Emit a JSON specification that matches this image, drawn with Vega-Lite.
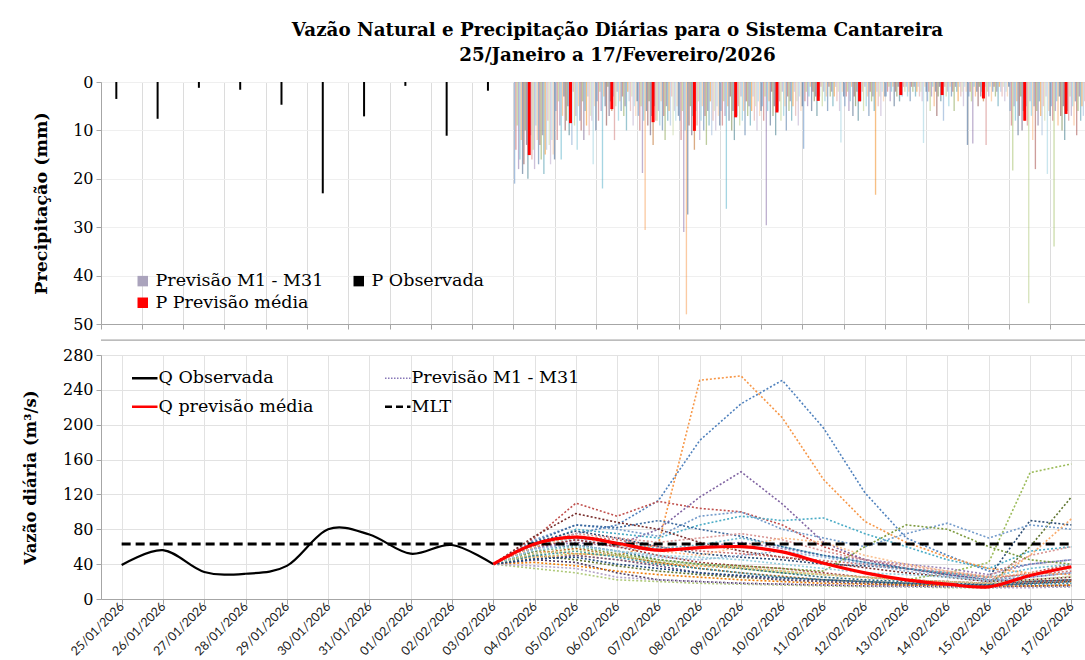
{
"$schema":"https://vega.github.io/schema/vega-lite/v6.json",
"padding":{"left":21,"top":21,"right":0,"bottom":0},
"background":"#ffffff",
"title":{"text":["Vazão Natural e Precipitação Diárias para o Sistema Cantareira","25/Janeiro a 17/Fevereiro/2026"],"font":"DejaVu Serif","fontSize":18.3,"fontWeight":"bold","lineHeight":25,"anchor":"middle","frame":"group","dx":21,"offset":8,"color":"#000000"},
"config":{
"view":{"stroke":"#bfbfbf","strokeWidth":1},
"axis":{"labelFont":"DejaVu Serif","labelFontSize":16,"titleFont":"DejaVu Serif","titleFontWeight":"bold","titleFontSize":16.5,"labelColor":"#000000","titleColor":"#000000","gridColor":"#e2e2e2","domainColor":"#a6a6a6","tickColor":"#a6a6a6","tickSize":5,"labelPadding":3,"labelOverlap":false},
"legend":{"labelFont":"DejaVu Serif","labelFontSize":17.5,"labelColor":"#000000","labelLimit":400}
},
"bounds":"flush",
"spacing":31,
"resolve":{"scale":{"color":"independent"}},
"datasets":{
"pobs":[{"d":"25/01","p":3.5,"s":"P Observada"},{"d":"26/01","p":7.6,"s":"P Observada"},{"d":"27/01","p":1.2,"s":"P Observada"},{"d":"28/01","p":1.6,"s":"P Observada"},{"d":"29/01","p":4.7,"s":"P Observada"},{"d":"30/01","p":23,"s":"P Observada"},{"d":"31/01","p":7.1,"s":"P Observada"},{"d":"01/02","p":0.8,"s":"P Observada"},{"d":"02/02","p":11.1,"s":"P Observada"},{"d":"03/02","p":1.8,"s":"P Observada"}],
"pavg":[{"d":"04/02","p":15.1,"s":"P Previsão média"},{"d":"05/02","p":8.5,"s":"P Previsão média"},{"d":"06/02","p":5.6,"s":"P Previsão média"},{"d":"07/02","p":8.3,"s":"P Previsão média"},{"d":"08/02","p":10.1,"s":"P Previsão média"},{"d":"09/02","p":7.3,"s":"P Previsão média"},{"d":"10/02","p":6.3,"s":"P Previsão média"},{"d":"11/02","p":3.9,"s":"P Previsão média"},{"d":"12/02","p":4.0,"s":"P Previsão média"},{"d":"13/02","p":2.7,"s":"P Previsão média"},{"d":"14/02","p":2.7,"s":"P Previsão média"},{"d":"15/02","p":3.4,"s":"P Previsão média"},{"d":"16/02","p":8.0,"s":"P Previsão média"},{"d":"17/02","p":6.6,"s":"P Previsão média"}],
"pmem":[
{"d":"04/02","m":1,"p":21},{"d":"04/02","m":2,"p":14},{"d":"04/02","m":3,"p":9},{"d":"04/02","m":4,"p":18},{"d":"04/02","m":5,"p":16},{"d":"04/02","m":6,"p":12},{"d":"04/02","m":7,"p":19},{"d":"04/02","m":8,"p":17},{"d":"04/02","m":9,"p":10},{"d":"04/02","m":10,"p":13},{"d":"04/02","m":11,"p":20},{"d":"04/02","m":12,"p":15},{"d":"04/02","m":13,"p":11},{"d":"04/02","m":14,"p":16},{"d":"04/02","m":15,"p":14},{"d":"04/02","m":16,"p":18},{"d":"04/02","m":17,"p":9},{"d":"04/02","m":18,"p":12},{"d":"04/02","m":19,"p":17},{"d":"04/02","m":20,"p":13},{"d":"04/02","m":21,"p":16},{"d":"04/02","m":22,"p":11},{"d":"04/02","m":23,"p":19},{"d":"04/02","m":24,"p":15},{"d":"04/02","m":25,"p":14},{"d":"04/02","m":26,"p":8},{"d":"04/02","m":27,"p":13},{"d":"04/02","m":28,"p":17},{"d":"04/02","m":29,"p":12},{"d":"04/02","m":30,"p":15},{"d":"04/02","m":31,"p":16},
{"d":"05/02","m":1,"p":6},{"d":"05/02","m":2,"p":12},{"d":"05/02","m":3,"p":4},{"d":"05/02","m":4,"p":9},{"d":"05/02","m":5,"p":16},{"d":"05/02","m":6,"p":7},{"d":"05/02","m":7,"p":3},{"d":"05/02","m":8,"p":10},{"d":"05/02","m":9,"p":8},{"d":"05/02","m":10,"p":5},{"d":"05/02","m":11,"p":11},{"d":"05/02","m":12,"p":6},{"d":"05/02","m":13,"p":13},{"d":"05/02","m":14,"p":2},{"d":"05/02","m":15,"p":9},{"d":"05/02","m":16,"p":7},{"d":"05/02","m":17,"p":14},{"d":"05/02","m":18,"p":5},{"d":"05/02","m":19,"p":8},{"d":"05/02","m":20,"p":10},{"d":"05/02","m":21,"p":4},{"d":"05/02","m":22,"p":12},{"d":"05/02","m":23,"p":6},{"d":"05/02","m":24,"p":9},{"d":"05/02","m":25,"p":3},{"d":"05/02","m":26,"p":11},{"d":"05/02","m":27,"p":7},{"d":"05/02","m":28,"p":8},{"d":"05/02","m":29,"p":17},{"d":"05/02","m":30,"p":5},{"d":"05/02","m":31,"p":10},
{"d":"06/02","m":1,"p":4},{"d":"06/02","m":2,"p":8},{"d":"06/02","m":3,"p":2},{"d":"06/02","m":4,"p":6},{"d":"06/02","m":5,"p":22},{"d":"06/02","m":6,"p":3},{"d":"06/02","m":7,"p":5},{"d":"06/02","m":8,"p":9},{"d":"06/02","m":9,"p":1},{"d":"06/02","m":10,"p":7},{"d":"06/02","m":11,"p":4},{"d":"06/02","m":12,"p":6},{"d":"06/02","m":13,"p":3},{"d":"06/02","m":14,"p":12},{"d":"06/02","m":15,"p":5},{"d":"06/02","m":16,"p":2},{"d":"06/02","m":17,"p":8},{"d":"06/02","m":18,"p":4},{"d":"06/02","m":19,"p":6},{"d":"06/02","m":20,"p":3},{"d":"06/02","m":21,"p":7},{"d":"06/02","m":22,"p":5},{"d":"06/02","m":23,"p":10},{"d":"06/02","m":24,"p":2},{"d":"06/02","m":25,"p":4},{"d":"06/02","m":26,"p":6},{"d":"06/02","m":27,"p":3},{"d":"06/02","m":28,"p":9},{"d":"06/02","m":29,"p":5},{"d":"06/02","m":30,"p":7},{"d":"06/02","m":31,"p":4},
{"d":"07/02","m":1,"p":7},{"d":"07/02","m":2,"p":10},{"d":"07/02","m":3,"p":5},{"d":"07/02","m":4,"p":18.8},{"d":"07/02","m":5,"p":8},{"d":"07/02","m":6,"p":30.6},{"d":"07/02","m":7,"p":6},{"d":"07/02","m":8,"p":9},{"d":"07/02","m":9,"p":4},{"d":"07/02","m":10,"p":11},{"d":"07/02","m":11,"p":7},{"d":"07/02","m":12,"p":13},{"d":"07/02","m":13,"p":5},{"d":"07/02","m":14,"p":8},{"d":"07/02","m":15,"p":8},{"d":"07/02","m":16,"p":6},{"d":"07/02","m":17,"p":9},{"d":"07/02","m":18,"p":4},{"d":"07/02","m":19,"p":10},{"d":"07/02","m":20,"p":7},{"d":"07/02","m":21,"p":12},{"d":"07/02","m":22,"p":5},{"d":"07/02","m":23,"p":8},{"d":"07/02","m":24,"p":6},{"d":"07/02","m":25,"p":9},{"d":"07/02","m":26,"p":3},{"d":"07/02","m":27,"p":11},{"d":"07/02","m":28,"p":6},{"d":"07/02","m":29,"p":8},{"d":"07/02","m":30,"p":5},{"d":"07/02","m":31,"p":7},
{"d":"08/02","m":1,"p":8},{"d":"08/02","m":2,"p":12},{"d":"08/02","m":3,"p":6},{"d":"08/02","m":4,"p":31},{"d":"08/02","m":5,"p":10},{"d":"08/02","m":6,"p":48},{"d":"08/02","m":7,"p":27.4},{"d":"08/02","m":8,"p":9},{"d":"08/02","m":9,"p":5},{"d":"08/02","m":10,"p":11},{"d":"08/02","m":11,"p":7},{"d":"08/02","m":12,"p":14},{"d":"08/02","m":13,"p":6},{"d":"08/02","m":14,"p":9},{"d":"08/02","m":15,"p":4},{"d":"08/02","m":16,"p":12},{"d":"08/02","m":17,"p":8},{"d":"08/02","m":18,"p":5},{"d":"08/02","m":19,"p":10},{"d":"08/02","m":20,"p":7},{"d":"08/02","m":21,"p":13},{"d":"08/02","m":22,"p":6},{"d":"08/02","m":23,"p":9},{"d":"08/02","m":24,"p":4},{"d":"08/02","m":25,"p":11},{"d":"08/02","m":26,"p":8},{"d":"08/02","m":27,"p":6},{"d":"08/02","m":28,"p":10},{"d":"08/02","m":29,"p":5},{"d":"08/02","m":30,"p":7},{"d":"08/02","m":31,"p":9},
{"d":"09/02","m":1,"p":6},{"d":"09/02","m":2,"p":9},{"d":"09/02","m":3,"p":4},{"d":"09/02","m":4,"p":7},{"d":"09/02","m":5,"p":26.2},{"d":"09/02","m":6,"p":5},{"d":"09/02","m":7,"p":8},{"d":"09/02","m":8,"p":3},{"d":"09/02","m":9,"p":10},{"d":"09/02","m":10,"p":6},{"d":"09/02","m":11,"p":12},{"d":"09/02","m":12,"p":4},{"d":"09/02","m":13,"p":7},{"d":"09/02","m":14,"p":5},{"d":"09/02","m":15,"p":9},{"d":"09/02","m":16,"p":3},{"d":"09/02","m":17,"p":8},{"d":"09/02","m":18,"p":6},{"d":"09/02","m":19,"p":11},{"d":"09/02","m":20,"p":4},{"d":"09/02","m":21,"p":7},{"d":"09/02","m":22,"p":5},{"d":"09/02","m":23,"p":9},{"d":"09/02","m":24,"p":6},{"d":"09/02","m":25,"p":3},{"d":"09/02","m":26,"p":8},{"d":"09/02","m":27,"p":5},{"d":"09/02","m":28,"p":10},{"d":"09/02","m":29,"p":4},{"d":"09/02","m":30,"p":7},{"d":"09/02","m":31,"p":6},
{"d":"10/02","m":1,"p":5},{"d":"10/02","m":2,"p":8},{"d":"10/02","m":3,"p":3},{"d":"10/02","m":4,"p":29.6},{"d":"10/02","m":5,"p":6},{"d":"10/02","m":6,"p":4},{"d":"10/02","m":7,"p":9},{"d":"10/02","m":8,"p":2},{"d":"10/02","m":9,"p":7},{"d":"10/02","m":10,"p":5},{"d":"10/02","m":11,"p":11},{"d":"10/02","m":12,"p":3},{"d":"10/02","m":13,"p":6},{"d":"10/02","m":14,"p":4},{"d":"10/02","m":15,"p":8},{"d":"10/02","m":16,"p":2},{"d":"10/02","m":17,"p":7},{"d":"10/02","m":18,"p":5},{"d":"10/02","m":19,"p":10},{"d":"10/02","m":20,"p":3},{"d":"10/02","m":21,"p":6},{"d":"10/02","m":22,"p":4},{"d":"10/02","m":23,"p":8},{"d":"10/02","m":24,"p":5},{"d":"10/02","m":25,"p":2},{"d":"10/02","m":26,"p":7},{"d":"10/02","m":27,"p":4},{"d":"10/02","m":28,"p":9},{"d":"10/02","m":29,"p":3},{"d":"10/02","m":30,"p":6},{"d":"10/02","m":31,"p":5},
{"d":"11/02","m":1,"p":13.8},{"d":"11/02","m":2,"p":4},{"d":"11/02","m":3,"p":2},{"d":"11/02","m":4,"p":5},{"d":"11/02","m":5,"p":3},{"d":"11/02","m":6,"p":1},{"d":"11/02","m":7,"p":6},{"d":"11/02","m":8,"p":2},{"d":"11/02","m":9,"p":4},{"d":"11/02","m":10,"p":3},{"d":"11/02","m":11,"p":7},{"d":"11/02","m":12,"p":2},{"d":"11/02","m":13,"p":3},{"d":"11/02","m":14,"p":1},{"d":"11/02","m":15,"p":5},{"d":"11/02","m":16,"p":2},{"d":"11/02","m":17,"p":4},{"d":"11/02","m":18,"p":3},{"d":"11/02","m":19,"p":6},{"d":"11/02","m":20,"p":1},{"d":"11/02","m":21,"p":3},{"d":"11/02","m":22,"p":2},{"d":"11/02","m":23,"p":5},{"d":"11/02","m":24,"p":3},{"d":"11/02","m":25,"p":1},{"d":"11/02","m":26,"p":4},{"d":"11/02","m":27,"p":2},{"d":"11/02","m":28,"p":6},{"d":"11/02","m":29,"p":12.5},{"d":"11/02","m":30,"p":2},{"d":"11/02","m":31,"p":3},
{"d":"12/02","m":1,"p":5},{"d":"12/02","m":2,"p":3},{"d":"12/02","m":3,"p":2},{"d":"12/02","m":4,"p":6},{"d":"12/02","m":5,"p":4},{"d":"12/02","m":6,"p":1},{"d":"12/02","m":7,"p":7},{"d":"12/02","m":8,"p":3},{"d":"12/02","m":9,"p":5},{"d":"12/02","m":10,"p":2},{"d":"12/02","m":11,"p":8},{"d":"12/02","m":12,"p":3},{"d":"12/02","m":13,"p":4},{"d":"12/02","m":14,"p":2},{"d":"12/02","m":15,"p":6},{"d":"12/02","m":16,"p":1},{"d":"12/02","m":17,"p":5},{"d":"12/02","m":18,"p":3},{"d":"12/02","m":19,"p":7},{"d":"12/02","m":20,"p":2},{"d":"12/02","m":21,"p":4},{"d":"12/02","m":22,"p":3},{"d":"12/02","m":23,"p":6},{"d":"12/02","m":24,"p":23.3},{"d":"12/02","m":25,"p":2},{"d":"12/02","m":26,"p":5},{"d":"12/02","m":27,"p":3},{"d":"12/02","m":28,"p":7},{"d":"12/02","m":29,"p":2},{"d":"12/02","m":30,"p":4},{"d":"12/02","m":31,"p":3},
{"d":"13/02","m":1,"p":3},{"d":"13/02","m":2,"p":2},{"d":"13/02","m":3,"p":1},{"d":"13/02","m":4,"p":4},{"d":"13/02","m":5,"p":2},{"d":"13/02","m":6,"p":1},{"d":"13/02","m":7,"p":5},{"d":"13/02","m":8,"p":2},{"d":"13/02","m":9,"p":3},{"d":"13/02","m":10,"p":1},{"d":"13/02","m":11,"p":4},{"d":"13/02","m":12,"p":2},{"d":"13/02","m":13,"p":3},{"d":"13/02","m":14,"p":1},{"d":"13/02","m":15,"p":2},{"d":"13/02","m":16,"p":1},{"d":"13/02","m":17,"p":3},{"d":"13/02","m":18,"p":2},{"d":"13/02","m":19,"p":4},{"d":"13/02","m":20,"p":1},{"d":"13/02","m":21,"p":2},{"d":"13/02","m":22,"p":1},{"d":"13/02","m":23,"p":3},{"d":"13/02","m":24,"p":2},{"d":"13/02","m":25,"p":1},{"d":"13/02","m":26,"p":3},{"d":"13/02","m":27,"p":2},{"d":"13/02","m":28,"p":4},{"d":"13/02","m":29,"p":12.6},{"d":"13/02","m":30,"p":1},{"d":"13/02","m":31,"p":2},
{"d":"14/02","m":1,"p":4},{"d":"14/02","m":2,"p":2},{"d":"14/02","m":3,"p":6},{"d":"14/02","m":4,"p":3},{"d":"14/02","m":5,"p":1},{"d":"14/02","m":6,"p":5},{"d":"14/02","m":7,"p":2},{"d":"14/02","m":8,"p":7},{"d":"14/02","m":9,"p":3},{"d":"14/02","m":10,"p":1},{"d":"14/02","m":11,"p":4},{"d":"14/02","m":12,"p":2},{"d":"14/02","m":13,"p":8},{"d":"14/02","m":14,"p":1},{"d":"14/02","m":15,"p":3},{"d":"14/02","m":16,"p":2},{"d":"14/02","m":17,"p":5},{"d":"14/02","m":18,"p":1},{"d":"14/02","m":19,"p":3},{"d":"14/02","m":20,"p":2},{"d":"14/02","m":21,"p":6},{"d":"14/02","m":22,"p":1},{"d":"14/02","m":23,"p":2},{"d":"14/02","m":24,"p":4},{"d":"14/02","m":25,"p":1},{"d":"14/02","m":26,"p":3},{"d":"14/02","m":27,"p":2},{"d":"14/02","m":28,"p":5},{"d":"14/02","m":29,"p":1},{"d":"14/02","m":30,"p":2},{"d":"14/02","m":31,"p":13},
{"d":"15/02","m":1,"p":3},{"d":"15/02","m":2,"p":2},{"d":"15/02","m":3,"p":4},{"d":"15/02","m":4,"p":12.7},{"d":"15/02","m":5,"p":1},{"d":"15/02","m":6,"p":3},{"d":"15/02","m":7,"p":2},{"d":"15/02","m":8,"p":5},{"d":"15/02","m":9,"p":1},{"d":"15/02","m":10,"p":3},{"d":"15/02","m":11,"p":2},{"d":"15/02","m":12,"p":4},{"d":"15/02","m":13,"p":1},{"d":"15/02","m":14,"p":13},{"d":"15/02","m":15,"p":2},{"d":"15/02","m":16,"p":3},{"d":"15/02","m":17,"p":1},{"d":"15/02","m":18,"p":4},{"d":"15/02","m":19,"p":2},{"d":"15/02","m":20,"p":1},{"d":"15/02","m":21,"p":3},{"d":"15/02","m":22,"p":2},{"d":"15/02","m":23,"p":5},{"d":"15/02","m":24,"p":1},{"d":"15/02","m":25,"p":2},{"d":"15/02","m":26,"p":3},{"d":"15/02","m":27,"p":1},{"d":"15/02","m":28,"p":4},{"d":"15/02","m":29,"p":2},{"d":"15/02","m":30,"p":3},{"d":"15/02","m":31,"p":1},
{"d":"16/02","m":1,"p":6},{"d":"16/02","m":2,"p":9},{"d":"16/02","m":3,"p":18.3},{"d":"16/02","m":4,"p":5},{"d":"16/02","m":5,"p":8},{"d":"16/02","m":6,"p":4},{"d":"16/02","m":7,"p":11},{"d":"16/02","m":8,"p":7},{"d":"16/02","m":9,"p":3},{"d":"16/02","m":10,"p":10},{"d":"16/02","m":11,"p":6},{"d":"16/02","m":12,"p":8},{"d":"16/02","m":13,"p":5},{"d":"16/02","m":14,"p":9},{"d":"16/02","m":15,"p":45.7},{"d":"16/02","m":16,"p":4},{"d":"16/02","m":17,"p":7},{"d":"16/02","m":18,"p":12},{"d":"16/02","m":19,"p":5},{"d":"16/02","m":20,"p":18},{"d":"16/02","m":21,"p":6},{"d":"16/02","m":22,"p":9},{"d":"16/02","m":23,"p":4},{"d":"16/02","m":24,"p":7},{"d":"16/02","m":25,"p":11},{"d":"16/02","m":26,"p":5},{"d":"16/02","m":27,"p":8},{"d":"16/02","m":28,"p":3},{"d":"16/02","m":29,"p":19},{"d":"16/02","m":30,"p":6},{"d":"16/02","m":31,"p":7},
{"d":"17/02","m":1,"p":5},{"d":"17/02","m":2,"p":8},{"d":"17/02","m":3,"p":34},{"d":"17/02","m":4,"p":6},{"d":"17/02","m":5,"p":4},{"d":"17/02","m":6,"p":9},{"d":"17/02","m":7,"p":3},{"d":"17/02","m":8,"p":7},{"d":"17/02","m":9,"p":10},{"d":"17/02","m":10,"p":5},{"d":"17/02","m":11,"p":12},{"d":"17/02","m":12,"p":4},{"d":"17/02","m":13,"p":6},{"d":"17/02","m":14,"p":8},{"d":"17/02","m":15,"p":3},{"d":"17/02","m":16,"p":7},{"d":"17/02","m":17,"p":5},{"d":"17/02","m":18,"p":9},{"d":"17/02","m":19,"p":4},{"d":"17/02","m":20,"p":11},{"d":"17/02","m":21,"p":6},{"d":"17/02","m":22,"p":3},{"d":"17/02","m":23,"p":8},{"d":"17/02","m":24,"p":5},{"d":"17/02","m":25,"p":7},{"d":"17/02","m":26,"p":4},{"d":"17/02","m":27,"p":10},{"d":"17/02","m":28,"p":6},{"d":"17/02","m":29,"p":3},{"d":"17/02","m":30,"p":8},{"d":"17/02","m":31,"p":5}
],
"qobs":[{"d":"25/01","q":39,"s":"Q Observada"},{"d":"26/01","q":56,"s":"Q Observada"},{"d":"27/01","q":31,"s":"Q Observada"},{"d":"28/01","q":29,"s":"Q Observada"},{"d":"29/01","q":38,"s":"Q Observada"},{"d":"30/01","q":80,"s":"Q Observada"},{"d":"31/01","q":74,"s":"Q Observada"},{"d":"01/02","q":52,"s":"Q Observada"},{"d":"02/02","q":62,"s":"Q Observada"},{"d":"03/02","q":40,"s":"Q Observada"}],
"qavg":[{"d":"03/02","q":40,"s":"Q previsão média"},{"d":"04/02","q":63,"s":"Q previsão média"},{"d":"05/02","q":71,"s":"Q previsão média"},{"d":"06/02","q":64,"s":"Q previsão média"},{"d":"07/02","q":56,"s":"Q previsão média"},{"d":"08/02","q":59,"s":"Q previsão média"},{"d":"09/02","q":60,"s":"Q previsão média"},{"d":"10/02","q":54,"s":"Q previsão média"},{"d":"11/02","q":41,"s":"Q previsão média"},{"d":"12/02","q":30,"s":"Q previsão média"},{"d":"13/02","q":22,"s":"Q previsão média"},{"d":"14/02","q":17,"s":"Q previsão média"},{"d":"15/02","q":14,"s":"Q previsão média"},{"d":"16/02","q":27,"s":"Q previsão média"},{"d":"17/02","q":37,"s":"Q previsão média"}],
"mlt":[{"d":"25/01","q":63,"s":"MLT"},{"d":"26/01","q":63,"s":"MLT"},{"d":"27/01","q":63,"s":"MLT"},{"d":"28/01","q":63,"s":"MLT"},{"d":"29/01","q":63,"s":"MLT"},{"d":"30/01","q":63,"s":"MLT"},{"d":"31/01","q":63,"s":"MLT"},{"d":"01/02","q":63,"s":"MLT"},{"d":"02/02","q":63,"s":"MLT"},{"d":"03/02","q":63,"s":"MLT"},{"d":"04/02","q":63,"s":"MLT"},{"d":"05/02","q":63,"s":"MLT"},{"d":"06/02","q":63,"s":"MLT"},{"d":"07/02","q":63,"s":"MLT"},{"d":"08/02","q":63,"s":"MLT"},{"d":"09/02","q":63,"s":"MLT"},{"d":"10/02","q":63,"s":"MLT"},{"d":"11/02","q":63,"s":"MLT"},{"d":"12/02","q":63,"s":"MLT"},{"d":"13/02","q":63,"s":"MLT"},{"d":"14/02","q":63,"s":"MLT"},{"d":"15/02","q":63,"s":"MLT"},{"d":"16/02","q":63,"s":"MLT"},{"d":"17/02","q":63,"s":"MLT"}],
"qmem":[
{"d":"03/02","m":1,"q":40},{"d":"04/02","m":1,"q":62},{"d":"05/02","m":1,"q":75},{"d":"06/02","m":1,"q":85},{"d":"07/02","m":1,"q":113},{"d":"08/02","m":1,"q":182},{"d":"09/02","m":1,"q":224},{"d":"10/02","m":1,"q":251},{"d":"11/02","m":1,"q":196},{"d":"12/02","m":1,"q":122},{"d":"13/02","m":1,"q":70},{"d":"14/02","m":1,"q":50},{"d":"15/02","m":1,"q":32},{"d":"16/02","m":1,"q":40},{"d":"17/02","m":1,"q":45},
{"d":"03/02","m":2,"q":40},{"d":"04/02","m":2,"q":70},{"d":"05/02","m":2,"q":110},{"d":"06/02","m":2,"q":95},{"d":"07/02","m":2,"q":112},{"d":"08/02","m":2,"q":104},{"d":"09/02","m":2,"q":100},{"d":"10/02","m":2,"q":85},{"d":"11/02","m":2,"q":60},{"d":"12/02","m":2,"q":45},{"d":"13/02","m":2,"q":35},{"d":"14/02","m":2,"q":28},{"d":"15/02","m":2,"q":22},{"d":"16/02","m":2,"q":30},{"d":"17/02","m":2,"q":40},
{"d":"03/02","m":3,"q":40},{"d":"04/02","m":3,"q":48},{"d":"05/02","m":3,"q":52},{"d":"06/02","m":3,"q":50},{"d":"07/02","m":3,"q":42},{"d":"08/02","m":3,"q":38},{"d":"09/02","m":3,"q":35},{"d":"10/02","m":3,"q":30},{"d":"11/02","m":3,"q":28},{"d":"12/02","m":3,"q":25},{"d":"13/02","m":3,"q":22},{"d":"14/02","m":3,"q":30},{"d":"15/02","m":3,"q":42},{"d":"16/02","m":3,"q":145},{"d":"17/02","m":3,"q":155},
{"d":"03/02","m":4,"q":40},{"d":"04/02","m":4,"q":58},{"d":"05/02","m":4,"q":68},{"d":"06/02","m":4,"q":62},{"d":"07/02","m":4,"q":80},{"d":"08/02","m":4,"q":117},{"d":"09/02","m":4,"q":146},{"d":"10/02","m":4,"q":109},{"d":"11/02","m":4,"q":65},{"d":"12/02","m":4,"q":45},{"d":"13/02","m":4,"q":35},{"d":"14/02","m":4,"q":28},{"d":"15/02","m":4,"q":22},{"d":"16/02","m":4,"q":25},{"d":"17/02","m":4,"q":30},
{"d":"03/02","m":5,"q":40},{"d":"04/02","m":5,"q":60},{"d":"05/02","m":5,"q":80},{"d":"06/02","m":5,"q":75},{"d":"07/02","m":5,"q":70},{"d":"08/02","m":5,"q":85},{"d":"09/02","m":5,"q":95},{"d":"10/02","m":5,"q":90},{"d":"11/02","m":5,"q":93},{"d":"12/02","m":5,"q":75},{"d":"13/02","m":5,"q":60},{"d":"14/02","m":5,"q":45},{"d":"15/02","m":5,"q":35},{"d":"16/02","m":5,"q":55},{"d":"17/02","m":5,"q":60},
{"d":"03/02","m":6,"q":40},{"d":"04/02","m":6,"q":55},{"d":"05/02","m":6,"q":52},{"d":"06/02","m":6,"q":50},{"d":"07/02","m":6,"q":63},{"d":"08/02","m":6,"q":251},{"d":"09/02","m":6,"q":256},{"d":"10/02","m":6,"q":208},{"d":"11/02","m":6,"q":137},{"d":"12/02","m":6,"q":89},{"d":"13/02","m":6,"q":65},{"d":"14/02","m":6,"q":48},{"d":"15/02","m":6,"q":35},{"d":"16/02","m":6,"q":30},{"d":"17/02","m":6,"q":28},
{"d":"03/02","m":7,"q":40},{"d":"04/02","m":7,"q":65},{"d":"05/02","m":7,"q":78},{"d":"06/02","m":7,"q":70},{"d":"07/02","m":7,"q":60},{"d":"08/02","m":7,"q":52},{"d":"09/02","m":7,"q":48},{"d":"10/02","m":7,"q":45},{"d":"11/02","m":7,"q":40},{"d":"12/02","m":7,"q":38},{"d":"13/02","m":7,"q":35},{"d":"14/02","m":7,"q":30},{"d":"15/02","m":7,"q":25},{"d":"16/02","m":7,"q":90},{"d":"17/02","m":7,"q":85},
{"d":"03/02","m":8,"q":40},{"d":"04/02","m":8,"q":72},{"d":"05/02","m":8,"q":98},{"d":"06/02","m":8,"q":88},{"d":"07/02","m":8,"q":80},{"d":"08/02","m":8,"q":65},{"d":"09/02","m":8,"q":55},{"d":"10/02","m":8,"q":48},{"d":"11/02","m":8,"q":42},{"d":"12/02","m":8,"q":36},{"d":"13/02","m":8,"q":30},{"d":"14/02","m":8,"q":25},{"d":"15/02","m":8,"q":20},{"d":"16/02","m":8,"q":22},{"d":"17/02","m":8,"q":25},
{"d":"03/02","m":9,"q":40},{"d":"04/02","m":9,"q":50},{"d":"05/02","m":9,"q":45},{"d":"06/02","m":9,"q":38},{"d":"07/02","m":9,"q":32},{"d":"08/02","m":9,"q":28},{"d":"09/02","m":9,"q":25},{"d":"10/02","m":9,"q":22},{"d":"11/02","m":9,"q":20},{"d":"12/02","m":9,"q":18},{"d":"13/02","m":9,"q":17},{"d":"14/02","m":9,"q":16},{"d":"15/02","m":9,"q":15},{"d":"16/02","m":9,"q":60},{"d":"17/02","m":9,"q":117},
{"d":"03/02","m":10,"q":40},{"d":"04/02","m":10,"q":45},{"d":"05/02","m":10,"q":42},{"d":"06/02","m":10,"q":30},{"d":"07/02","m":10,"q":22},{"d":"08/02","m":10,"q":20},{"d":"09/02","m":10,"q":18},{"d":"10/02","m":10,"q":17},{"d":"11/02","m":10,"q":16},{"d":"12/02","m":10,"q":15},{"d":"13/02","m":10,"q":15},{"d":"14/02","m":10,"q":14},{"d":"15/02","m":10,"q":14},{"d":"16/02","m":10,"q":15},{"d":"17/02","m":10,"q":15},
{"d":"03/02","m":11,"q":40},{"d":"04/02","m":11,"q":55},{"d":"05/02","m":11,"q":62},{"d":"06/02","m":11,"q":55},{"d":"07/02","m":11,"q":45},{"d":"08/02","m":11,"q":40},{"d":"09/02","m":11,"q":35},{"d":"10/02","m":11,"q":30},{"d":"11/02","m":11,"q":25},{"d":"12/02","m":11,"q":22},{"d":"13/02","m":11,"q":20},{"d":"14/02","m":11,"q":18},{"d":"15/02","m":11,"q":17},{"d":"16/02","m":11,"q":20},{"d":"17/02","m":11,"q":22},
{"d":"03/02","m":12,"q":40},{"d":"04/02","m":12,"q":52},{"d":"05/02","m":12,"q":58},{"d":"06/02","m":12,"q":50},{"d":"07/02","m":12,"q":42},{"d":"08/02","m":12,"q":35},{"d":"09/02","m":12,"q":30},{"d":"10/02","m":12,"q":26},{"d":"11/02","m":12,"q":22},{"d":"12/02","m":12,"q":20},{"d":"13/02","m":12,"q":18},{"d":"14/02","m":12,"q":16},{"d":"15/02","m":12,"q":15},{"d":"16/02","m":12,"q":18},{"d":"17/02","m":12,"q":20},
{"d":"03/02","m":13,"q":40},{"d":"04/02","m":13,"q":68},{"d":"05/02","m":13,"q":85},{"d":"06/02","m":13,"q":80},{"d":"07/02","m":13,"q":72},{"d":"08/02","m":13,"q":95},{"d":"09/02","m":13,"q":100},{"d":"10/02","m":13,"q":80},{"d":"11/02","m":13,"q":70},{"d":"12/02","m":13,"q":60},{"d":"13/02","m":13,"q":75},{"d":"14/02","m":13,"q":87},{"d":"15/02","m":13,"q":70},{"d":"16/02","m":13,"q":85},{"d":"17/02","m":13,"q":80},
{"d":"03/02","m":14,"q":40},{"d":"04/02","m":14,"q":62},{"d":"05/02","m":14,"q":72},{"d":"06/02","m":14,"q":68},{"d":"07/02","m":14,"q":60},{"d":"08/02","m":14,"q":55},{"d":"09/02","m":14,"q":52},{"d":"10/02","m":14,"q":48},{"d":"11/02","m":14,"q":44},{"d":"12/02","m":14,"q":40},{"d":"13/02","m":14,"q":35},{"d":"14/02","m":14,"q":30},{"d":"15/02","m":14,"q":25},{"d":"16/02","m":14,"q":28},{"d":"17/02","m":14,"q":32},
{"d":"03/02","m":15,"q":40},{"d":"04/02","m":15,"q":35},{"d":"05/02","m":15,"q":30},{"d":"06/02","m":15,"q":22},{"d":"07/02","m":15,"q":20},{"d":"08/02","m":15,"q":18},{"d":"09/02","m":15,"q":17},{"d":"10/02","m":15,"q":16},{"d":"11/02","m":15,"q":15},{"d":"12/02","m":15,"q":14},{"d":"13/02","m":15,"q":14},{"d":"14/02","m":15,"q":13},{"d":"15/02","m":15,"q":13},{"d":"16/02","m":15,"q":14},{"d":"17/02","m":15,"q":14},
{"d":"03/02","m":16,"q":40},{"d":"04/02","m":16,"q":58},{"d":"05/02","m":16,"q":65},{"d":"06/02","m":16,"q":60},{"d":"07/02","m":16,"q":55},{"d":"08/02","m":16,"q":60},{"d":"09/02","m":16,"q":65},{"d":"10/02","m":16,"q":58},{"d":"11/02","m":16,"q":50},{"d":"12/02","m":16,"q":45},{"d":"13/02","m":16,"q":40},{"d":"14/02","m":16,"q":35},{"d":"15/02","m":16,"q":28},{"d":"16/02","m":16,"q":40},{"d":"17/02","m":16,"q":45},
{"d":"03/02","m":17,"q":40},{"d":"04/02","m":17,"q":62},{"d":"05/02","m":17,"q":70},{"d":"06/02","m":17,"q":65},{"d":"07/02","m":17,"q":58},{"d":"08/02","m":17,"q":62},{"d":"09/02","m":17,"q":70},{"d":"10/02","m":17,"q":60},{"d":"11/02","m":17,"q":50},{"d":"12/02","m":17,"q":42},{"d":"13/02","m":17,"q":35},{"d":"14/02","m":17,"q":30},{"d":"15/02","m":17,"q":25},{"d":"16/02","m":17,"q":35},{"d":"17/02","m":17,"q":40},
{"d":"03/02","m":18,"q":40},{"d":"04/02","m":18,"q":48},{"d":"05/02","m":18,"q":50},{"d":"06/02","m":18,"q":45},{"d":"07/02","m":18,"q":40},{"d":"08/02","m":18,"q":38},{"d":"09/02","m":18,"q":36},{"d":"10/02","m":18,"q":32},{"d":"11/02","m":18,"q":28},{"d":"12/02","m":18,"q":25},{"d":"13/02","m":18,"q":22},{"d":"14/02","m":18,"q":20},{"d":"15/02","m":18,"q":18},{"d":"16/02","m":18,"q":50},{"d":"17/02","m":18,"q":92},
{"d":"03/02","m":19,"q":40},{"d":"04/02","m":19,"q":66},{"d":"05/02","m":19,"q":85},{"d":"06/02","m":19,"q":82},{"d":"07/02","m":19,"q":90},{"d":"08/02","m":19,"q":80},{"d":"09/02","m":19,"q":72},{"d":"10/02","m":19,"q":60},{"d":"11/02","m":19,"q":50},{"d":"12/02","m":19,"q":42},{"d":"13/02","m":19,"q":35},{"d":"14/02","m":19,"q":28},{"d":"15/02","m":19,"q":22},{"d":"16/02","m":19,"q":20},{"d":"17/02","m":19,"q":22},
{"d":"03/02","m":20,"q":40},{"d":"04/02","m":20,"q":60},{"d":"05/02","m":20,"q":68},{"d":"06/02","m":20,"q":60},{"d":"07/02","m":20,"q":50},{"d":"08/02","m":20,"q":42},{"d":"09/02","m":20,"q":38},{"d":"10/02","m":20,"q":35},{"d":"11/02","m":20,"q":30},{"d":"12/02","m":20,"q":25},{"d":"13/02","m":20,"q":22},{"d":"14/02","m":20,"q":20},{"d":"15/02","m":20,"q":18},{"d":"16/02","m":20,"q":20},{"d":"17/02","m":20,"q":22},
{"d":"03/02","m":21,"q":40},{"d":"04/02","m":21,"q":55},{"d":"05/02","m":21,"q":60},{"d":"06/02","m":21,"q":52},{"d":"07/02","m":21,"q":45},{"d":"08/02","m":21,"q":40},{"d":"09/02","m":21,"q":38},{"d":"10/02","m":21,"q":35},{"d":"11/02","m":21,"q":32},{"d":"12/02","m":21,"q":60},{"d":"13/02","m":21,"q":85},{"d":"14/02","m":21,"q":80},{"d":"15/02","m":21,"q":60},{"d":"16/02","m":21,"q":45},{"d":"17/02","m":21,"q":40},
{"d":"03/02","m":22,"q":40},{"d":"04/02","m":22,"q":45},{"d":"05/02","m":22,"q":50},{"d":"06/02","m":22,"q":45},{"d":"07/02","m":22,"q":38},{"d":"08/02","m":22,"q":30},{"d":"09/02","m":22,"q":26},{"d":"10/02","m":22,"q":22},{"d":"11/02","m":22,"q":20},{"d":"12/02","m":22,"q":18},{"d":"13/02","m":22,"q":16},{"d":"14/02","m":22,"q":15},{"d":"15/02","m":22,"q":14},{"d":"16/02","m":22,"q":15},{"d":"17/02","m":22,"q":16},
{"d":"03/02","m":23,"q":40},{"d":"04/02","m":23,"q":50},{"d":"05/02","m":23,"q":55},{"d":"06/02","m":23,"q":48},{"d":"07/02","m":23,"q":40},{"d":"08/02","m":23,"q":35},{"d":"09/02","m":23,"q":30},{"d":"10/02","m":23,"q":25},{"d":"11/02","m":23,"q":22},{"d":"12/02","m":23,"q":20},{"d":"13/02","m":23,"q":18},{"d":"14/02","m":23,"q":17},{"d":"15/02","m":23,"q":16},{"d":"16/02","m":23,"q":17},{"d":"17/02","m":23,"q":18},
{"d":"03/02","m":24,"q":40},{"d":"04/02","m":24,"q":42},{"d":"05/02","m":24,"q":38},{"d":"06/02","m":24,"q":32},{"d":"07/02","m":24,"q":28},{"d":"08/02","m":24,"q":25},{"d":"09/02","m":24,"q":22},{"d":"10/02","m":24,"q":20},{"d":"11/02","m":24,"q":18},{"d":"12/02","m":24,"q":17},{"d":"13/02","m":24,"q":16},{"d":"14/02","m":24,"q":15},{"d":"15/02","m":24,"q":14},{"d":"16/02","m":24,"q":15},{"d":"17/02","m":24,"q":16},
{"d":"03/02","m":25,"q":40},{"d":"04/02","m":25,"q":58},{"d":"05/02","m":25,"q":62},{"d":"06/02","m":25,"q":55},{"d":"07/02","m":25,"q":48},{"d":"08/02","m":25,"q":45},{"d":"09/02","m":25,"q":50},{"d":"10/02","m":25,"q":55},{"d":"11/02","m":25,"q":48},{"d":"12/02","m":25,"q":40},{"d":"13/02","m":25,"q":32},{"d":"14/02","m":25,"q":26},{"d":"15/02","m":25,"q":20},{"d":"16/02","m":25,"q":25},{"d":"17/02","m":25,"q":30},
{"d":"03/02","m":26,"q":40},{"d":"04/02","m":26,"q":64},{"d":"05/02","m":26,"q":75},{"d":"06/02","m":26,"q":70},{"d":"07/02","m":26,"q":65},{"d":"08/02","m":26,"q":70},{"d":"09/02","m":26,"q":75},{"d":"10/02","m":26,"q":68},{"d":"11/02","m":26,"q":55},{"d":"12/02","m":26,"q":45},{"d":"13/02","m":26,"q":38},{"d":"14/02","m":26,"q":32},{"d":"15/02","m":26,"q":26},{"d":"16/02","m":26,"q":50},{"d":"17/02","m":26,"q":60},
{"d":"03/02","m":27,"q":40},{"d":"04/02","m":27,"q":52},{"d":"05/02","m":27,"q":56},{"d":"06/02","m":27,"q":50},{"d":"07/02","m":27,"q":44},{"d":"08/02","m":27,"q":40},{"d":"09/02","m":27,"q":36},{"d":"10/02","m":27,"q":32},{"d":"11/02","m":27,"q":28},{"d":"12/02","m":27,"q":25},{"d":"13/02","m":27,"q":22},{"d":"14/02","m":27,"q":20},{"d":"15/02","m":27,"q":18},{"d":"16/02","m":27,"q":22},{"d":"17/02","m":27,"q":26},
{"d":"03/02","m":28,"q":40},{"d":"04/02","m":28,"q":38},{"d":"05/02","m":28,"q":35},{"d":"06/02","m":28,"q":25},{"d":"07/02","m":28,"q":22},{"d":"08/02","m":28,"q":20},{"d":"09/02","m":28,"q":18},{"d":"10/02","m":28,"q":17},{"d":"11/02","m":28,"q":16},{"d":"12/02","m":28,"q":15},{"d":"13/02","m":28,"q":14},{"d":"14/02","m":28,"q":14},{"d":"15/02","m":28,"q":13},{"d":"16/02","m":28,"q":13},{"d":"17/02","m":28,"q":14},
{"d":"03/02","m":29,"q":40},{"d":"04/02","m":29,"q":56},{"d":"05/02","m":29,"q":60},{"d":"06/02","m":29,"q":55},{"d":"07/02","m":29,"q":50},{"d":"08/02","m":29,"q":48},{"d":"09/02","m":29,"q":45},{"d":"10/02","m":29,"q":40},{"d":"11/02","m":29,"q":35},{"d":"12/02","m":29,"q":30},{"d":"13/02","m":29,"q":28},{"d":"14/02","m":29,"q":25},{"d":"15/02","m":29,"q":22},{"d":"16/02","m":29,"q":28},{"d":"17/02","m":29,"q":35},
{"d":"03/02","m":30,"q":40},{"d":"04/02","m":30,"q":60},{"d":"05/02","m":30,"q":72},{"d":"06/02","m":30,"q":62},{"d":"07/02","m":30,"q":55},{"d":"08/02","m":30,"q":50},{"d":"09/02","m":30,"q":60},{"d":"10/02","m":30,"q":70},{"d":"11/02","m":30,"q":65},{"d":"12/02","m":30,"q":50},{"d":"13/02","m":30,"q":40},{"d":"14/02","m":30,"q":32},{"d":"15/02","m":30,"q":25},{"d":"16/02","m":30,"q":30},{"d":"17/02","m":30,"q":35},
{"d":"03/02","m":31,"q":40},{"d":"04/02","m":31,"q":46},{"d":"05/02","m":31,"q":48},{"d":"06/02","m":31,"q":40},{"d":"07/02","m":31,"q":35},{"d":"08/02","m":31,"q":30},{"d":"09/02","m":31,"q":27},{"d":"10/02","m":31,"q":24},{"d":"11/02","m":31,"q":22},{"d":"12/02","m":31,"q":20},{"d":"13/02","m":31,"q":18},{"d":"14/02","m":31,"q":17},{"d":"15/02","m":31,"q":16},{"d":"16/02","m":31,"q":18},{"d":"17/02","m":31,"q":20}
]
},
"vconcat":[
{
"width":991,"height":242,
"layer":[
{"data":{"name":"pmem"},"mark":{"type":"bar","opacity":0.5},
"encoding":{
"x":{"field":"d","type":"nominal","scale":{"domain":["25/01","26/01","27/01","28/01","29/01","30/01","31/01","01/02","02/02","03/02","04/02","05/02","06/02","07/02","08/02","09/02","10/02","11/02","12/02","13/02","14/02","15/02","16/02","17/02"],"paddingInner":0,"paddingOuter":0},"axis":{"title":null,"labels":false,"bandPosition":0,"grid":true,"gridColor":"#dcdcdc","ticks":true,"domain":true}},
"xOffset":{"field":"m","type":"nominal","scale":{"domain":[1,2,3,4,5,6,7,8,9,10,11,12,13,14,15,16,17,18,19,20,21,22,23,24,25,26,27,28,29,30,31],"paddingInner":0,"paddingOuter":0}},
"y":{"field":"p","type":"quantitative","scale":{"domain":[0,50],"reverse":true,"nice":false},"axis":{"title":"Precipitação (mm)","values":[0,10,20,30,40,50],"gridColor":"#efefef","titlePadding":22,"titleFontSize":17.5}},
"color":{"field":"m","type":"nominal","scale":{"domain":[1,2,3,4,5,6,7,8,9,10,11,12,13,14,15,16,17,18,19,20,21,22,23,24,25,26,27,28,29,30,31],"range":["#4f81bd","#c0504d","#9bbb59","#8064a2","#4bacc6","#f79646","#2c4d75","#772c2a","#5f7530","#4d3b62","#276a7c","#b65708","#729aca","#cd7371","#afc97a","#9983b5","#6fbdd1","#f9ab6b","#3a679c","#9d3b38","#7c9a3e","#664f83","#358da4","#f07f09","#95b3d7","#d99694","#c3d69b","#b3a2c7","#93cddd","#fac090","#1f497d"]},"legend":null}
}},
{"layer":[
{"data":{"name":"pobs"},"mark":{"type":"bar","width":2},
"encoding":{"x":{"field":"d","type":"nominal"},"xOffset":{"datum":12,"type":"nominal"},"y":{"field":"p","type":"quantitative","axis":{"title":"Precipitação (mm)","values":[0,10,20,30,40,50],"gridColor":"#efefef","titlePadding":22,"titleFontSize":17.5}},
"color":{"field":"s","type":"nominal","scale":{"domain":["Previsão M1 - M31","P Previsão média","P Observada"],"range":["#aaa3bc","#ff0000","#000000"]},
"legend":{"title":null,"orient":"none","legendX":33,"legendY":190,"columns":2,"symbolType":"square","symbolSize":110,"symbolStrokeWidth":0,"columnPadding":26,"rowPadding":3,"labelOffset":4}}}},
{"data":{"name":"pavg"},"mark":{"type":"bar","width":3},
"encoding":{"x":{"field":"d","type":"nominal"},"xOffset":{"datum":12,"type":"nominal"},"y":{"field":"p","type":"quantitative","axis":{"title":"Precipitação (mm)","values":[0,10,20,30,40,50],"gridColor":"#efefef","titlePadding":22,"titleFontSize":17.5}},
"color":{"field":"s","type":"nominal"}}}
]}
],
"resolve":{"scale":{"color":"independent"}}
},
{
"width":991,"height":244,
"layer":[
{"data":{"name":"qmem"},"mark":{"type":"line","strokeDash":[2,2],"strokeWidth":1.6},
"encoding":{
"x":{"field":"d","type":"nominal","scale":{"domain":["25/01","26/01","27/01","28/01","29/01","30/01","31/01","01/02","02/02","03/02","04/02","05/02","06/02","07/02","08/02","09/02","10/02","11/02","12/02","13/02","14/02","15/02","16/02","17/02"],"paddingInner":0,"paddingOuter":0},"axis":{"title":null,"bandPosition":0,"labelAngle":-45,"labelAlign":"right","labelBaseline":"middle","labelFont":"Lato","labelFontSize":12.5,"labelColor":"#1a1a1a","labelPadding":0,"labelExpr":"datum.label + '/2026'","grid":true,"gridColor":"#e2e2e2"}},
"y":{"field":"q","type":"quantitative","scale":{"domain":[0,280],"nice":false},"axis":{"title":"Vazão diária (m³/s)","values":[0,40,80,120,160,200,240,280],"labelOverlap":false,"titlePadding":24}},
"color":{"field":"m","type":"nominal","scale":{"domain":[1,2,3,4,5,6,7,8,9,10,11,12,13,14,15,16,17,18,19,20,21,22,23,24,25,26,27,28,29,30,31],"range":["#4f81bd","#c0504d","#9bbb59","#8064a2","#4bacc6","#f79646","#2c4d75","#772c2a","#5f7530","#4d3b62","#276a7c","#b65708","#729aca","#cd7371","#afc97a","#9983b5","#6fbdd1","#f9ab6b","#3a679c","#9d3b38","#7c9a3e","#664f83","#358da4","#f07f09","#95b3d7","#d99694","#c3d69b","#b3a2c7","#93cddd","#fac090","#1f497d"]},"legend":null}
}},
{"layer":[
{"data":{"name":"mlt"},"mark":{"type":"line","strokeWidth":3,"strokeDash":[9,5]},
"encoding":{"x":{"field":"d","type":"nominal"},"y":{"field":"q","type":"quantitative","axis":{"title":"Vazão diária (m³/s)","values":[0,40,80,120,160,200,240,280],"labelOverlap":false,"titlePadding":24}},
"color":{"field":"s","type":"nominal","scale":{"domain":["Q Observada","Q previsão média","Previsão M1 - M31","MLT"],"range":["#000000","#ff0000","#8878b8","#000000"]},
"legend":{"title":null,"orient":"none","legendX":35,"legendY":14,"columns":2,"symbolType":"stroke","symbolSize":650,"symbolStrokeWidth":2.5,"columnPadding":66,"rowPadding":10,"labelOffset":5,
"encode":{"symbols":{"update":{"strokeDash":{"signal":"datum.label === 'MLT' ? [7,4] : (datum.label === 'Previsão M1 - M31' ? [1.5,1.5] : [1,0])"},"strokeWidth":{"signal":"datum.label === 'Previsão M1 - M31' ? 1.5 : 2.5"}}}}}}}},
{"data":{"name":"qobs"},"mark":{"type":"line","strokeWidth":2.2,"interpolate":"cardinal"},
"encoding":{"x":{"field":"d","type":"nominal"},"y":{"field":"q","type":"quantitative","axis":{"title":"Vazão diária (m³/s)","values":[0,40,80,120,160,200,240,280],"labelOverlap":false,"titlePadding":24}},"color":{"field":"s","type":"nominal"}}},
{"data":{"name":"qavg"},"mark":{"type":"line","strokeWidth":3.2,"interpolate":"cardinal"},
"encoding":{"x":{"field":"d","type":"nominal"},"y":{"field":"q","type":"quantitative","axis":{"title":"Vazão diária (m³/s)","values":[0,40,80,120,160,200,240,280],"labelOverlap":false,"titlePadding":24}},"color":{"field":"s","type":"nominal"}}}
]},
{"data":{"values":[{}]},"mark":{"type":"rule","color":"#a6a6a6","strokeWidth":1.3},"encoding":{"y":{"datum":297,"type":"quantitative","axis":{"title":"Vazão diária (m³/s)","values":[0,40,80,120,160,200,240,280],"labelOverlap":false,"titlePadding":24}}}}
],
"resolve":{"scale":{"color":"independent"}}
}
]
}
